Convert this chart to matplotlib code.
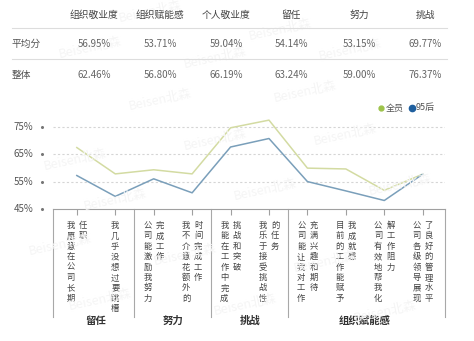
import numpy as np
import matplotlib
matplotlib.use("Agg")
import matplotlib.pyplot as plt
from matplotlib.lines import Line2D
from matplotlib.transforms import blended_transform_factory

plt.rcParams['font.family'] = ['Noto Sans CJK SC', 'DejaVu Sans']

# summary table
table_cols = ["组织敬业度", "组织赋能感", "个人敬业度", "留任", "努力", "挑战"]
row_names = ["平均分", "整体"]
avg_row = ["56.95%", "53.71%", "59.04%", "54.14%", "53.15%", "69.77%"]
all_row = ["62.46%", "56.80%", "66.19%", "63.24%", "59.00%", "76.37%"]

# line chart
categories = ["我愿意在公司长期任职", "我几乎没想过要跳槽",
              "公司能激励我努力完成工作", "我不介意花额外的时间完成工作",
              "我能在工作中完成挑战和突破", "我乐于接受挑战性的任务",
              "公司能让我对工作充满兴趣和期待", "目前的工作能赋予我成就感",
              "公司有效地帮我化解工作阻力", "公司各级领导展现了良好的管理水平"]
groups = ["留任", "努力", "挑战", "组织赋能感"]
group_sizes = [2, 2, 2, 4]
all_staff = [67.4, 57.8, 59.3, 57.8, 74.6, 77.4, 59.9, 59.6, 51.8, 57.7]
post95 = [57.2, 49.6, 56.0, 50.9, 67.6, 70.7, 55.0, 51.6, 48.1, 57.7]
yticks = [45, 55, 65, 75]

W, H = 474, 341
fx = lambda px: px / W
fy = lambda py: 1 - py / H

fig = plt.figure(figsize=(W / 100, H / 100), dpi=100)
fig.patch.set_facecolor("white")

# faint watermark
for (px, py) in [(150, 12), (280, 30), (90, 48), (215, 58), (350, 50),
                 (160, 100), (305, 92), (75, 160), (215, 140), (345, 135),
                 (115, 200), (265, 190), (400, 185), (60, 245), (185, 255),
                 (325, 262), (100, 300), (245, 305), (385, 312)]:
    fig.text(fx(px), fy(py), "Beisen北森", fontsize=9, color="#f5f5f5",
             rotation=12, ha="center", va="center", zorder=0)

# table
col_x = [94, 160, 226, 291, 359, 425]
for x, name, a, b in zip(col_x, table_cols, avg_row, all_row):
    fig.text(fx(x), fy(15), name, fontsize=7, color="#444444", ha="center", va="center")
    fig.text(fx(x), fy(44), a, fontsize=7, color="#666666", ha="center", va="center")
    fig.text(fx(x), fy(75), b, fontsize=7, color="#666666", ha="center", va="center")
for py, name in zip([44, 75], row_names):
    fig.text(fx(12), fy(py), name, fontsize=7, color="#555555", ha="left", va="center")
for py in [28, 59]:
    fig.add_artist(Line2D([fx(12), fx(447)], [fy(py), fy(py)],
                          transform=fig.transFigure, color="#dddddd", lw=0.8))

# chart area
ax = fig.add_axes([fx(53), fy(209), fx(445) - fx(53), fy(113) - fy(209)])
ax.set_facecolor("none")
x = np.arange(len(categories))
ax.plot(x, all_staff, color="#d3dba2", lw=1.1, zorder=3)
ax.plot(x, post95, color="#7a9fba", lw=1.1, zorder=3)
ax.set_xlim(-0.62, 9.58)
ax.set_ylim(45, 80)

for v in yticks[1:]:
    ax.axhline(v, color="#d5d5d5", lw=0.8, dashes=(2, 2), zorder=1)

for s in ["top", "right", "left"]:
    ax.spines[s].set_visible(False)
ax.spines["bottom"].set_color("#a0a0a0")
ax.spines["bottom"].set_linewidth(0.8)
ax.set_xticks(x)
ax.set_xticklabels([])
ax.tick_params(axis="x", length=4, color="#a0a0a0", width=0.8)
ax.set_yticks([])

ty = blended_transform_factory(fig.transFigure, ax.transData)
for v in yticks:
    fig.text(fx(33), 0, f"{v}%", transform=ty, fontsize=7, color="#555555",
             ha="right", va="center").set_y(v)
    ax.plot([fx(42)], [v], marker="o", ms=1.2, color="#777777",
            transform=ty, clip_on=False)

# vertical category labels
tx = blended_transform_factory(ax.transData, fig.transFigure)
for i, cat in enumerate(categories):
    cols = [cat] if len(cat) <= 9 else [cat[:8], cat[8:]]
    offs = [0.0] if len(cols) == 1 else [-0.16, 0.16]
    for c, o in zip(cols, offs):
        ax.text(i + o, fy(221), "\n".join(c), transform=tx, fontsize=6,
                color="#444444", ha="center", va="top", linespacing=1.2,
                clip_on=False)

# group separators and names
bounds = [-0.62]
start = 0
for gname, n in zip(groups, group_sizes):
    ax.text(start + (n - 1) / 2, fy(321), gname, transform=tx, fontsize=7.5,
            color="#333333", fontweight="bold", ha="center", va="center")
    start += n
    bounds.append(start - 0.5)
bounds[-1] = 9.58
for b in bounds:
    ax.plot([b, b], [fy(209), fy(317)], transform=tx, color="#a8a8a8",
            lw=0.8, clip_on=False)

# legend
fig.add_artist(Line2D([fx(381)], [fy(108)], transform=fig.transFigure,
                      marker="o", ms=3.5, color="#9dc34a", lw=0))
fig.text(fx(386), fy(108), "全员", fontsize=6.5, color="#555555", va="center")
fig.add_artist(Line2D([fx(412)], [fy(108)], transform=fig.transFigure,
                      marker="o", ms=4.5, color="#1f5f9e", lw=0))
fig.text(fx(416), fy(108), "95后", fontsize=6.5, color="#555555", va="center")

fig.savefig("out.png", dpi=100)
